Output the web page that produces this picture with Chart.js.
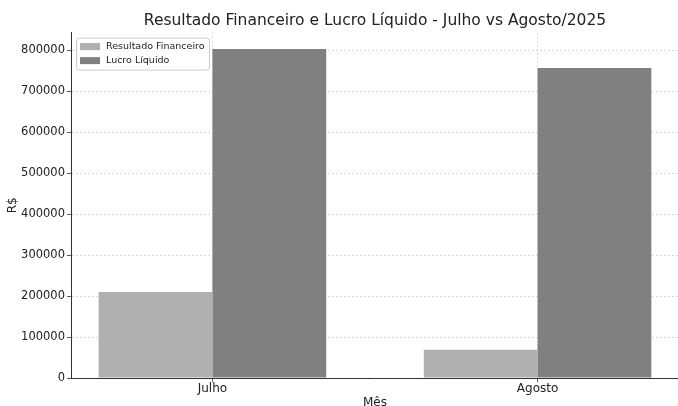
<!DOCTYPE html>
<html lang="pt">
<head>
  <meta charset="UTF-8" />
  <title>Resultado Financeiro e Lucro Líquido</title>
  <script src="https://cdn.jsdelivr.net/npm/chart.js"></script>
  <style>
    html, body {
      margin: 0;
      padding: 0;
      background: #fff;
      overflow: hidden;
    }
    #wrap {
      position: absolute;
      left: 0;
      top: 0;
      width: 750px;
      height: 410px;
    }
  </style>
</head>
<body>
  <div id="wrap">
    <canvas id="chart" width="750" height="410"></canvas>
  </div>
  <script>
    // dados
    const meses = ['Julho', 'Agosto'];
    const resultadoFinanceiro = [210000, 69000];
    const lucroLiquido = [803000, 757000];
    const yTicks = [0, 100000, 200000, 300000, 400000, 500000, 600000, 700000, 800000];

    const font = 'DejaVu Sans';
    const gridColor = '#d0d0d0';
    const axisColor = '#333333';

    // limites como o matplotlib (margem de 5%)
    const yMax = Math.max(...lucroLiquido, ...resultadoFinanceiro) * 1.05;
    const xMin = -0.435, xMax = (meses.length - 1) + 0.435;

    const legendInside = {
      id: 'legendInside',
      afterDatasetsDraw(chart) {
        const ctx = chart.ctx;
        const area = chart.chartArea;
        const x = area.left + 5, y = area.top + 5;
        const w = 133, h = 32;
        ctx.save();
        ctx.fillStyle = 'rgba(255,255,255,0.8)';
        ctx.strokeStyle = '#cccccc';
        ctx.lineWidth = 1;
        ctx.beginPath();
        ctx.roundRect(x + 0.5, y + 0.5, w, h, 3);
        ctx.fill();
        ctx.stroke();
        ctx.font = '9.5px "' + font + '"';
        ctx.textBaseline = 'middle';
        chart.data.datasets.forEach((ds, i) => {
          const cy = y + 9 + i * 14;
          ctx.fillStyle = ds.backgroundColor;
          ctx.fillRect(x + 4, cy - 3.5, 20, 7);
          ctx.fillStyle = '#222222';
          ctx.fillText(ds.label, x + 30, cy);
        });
        ctx.restore();
      }
    };

    const ctx = document.getElementById('chart').getContext('2d');
    new Chart(ctx, {
      type: 'bar',
      data: {
        datasets: [
          {
            label: 'Resultado Financeiro',
            data: resultadoFinanceiro.map((v, i) => ({ x: i, y: v })),
            backgroundColor: '#b0b0b0',
            borderWidth: 0
          },
          {
            label: 'Lucro Líquido',
            data: lucroLiquido.map((v, i) => ({ x: i, y: v })),
            backgroundColor: '#808080',
            borderWidth: 0
          }
        ]
      },
      options: {
        responsive: false,
        animation: false,
        devicePixelRatio: 1,
        barPercentage: 1,
        categoryPercentage: 0.7,
        layout: { padding: 0 },
        plugins: {
          legend: { display: false },
          tooltip: { enabled: false },
          title: {
            display: true,
            text: 'Resultado Financeiro e Lucro Líquido - Julho vs Agosto/2025',
            color: '#222222',
            font: { family: font, size: 15.5, weight: 'normal' },
            padding: { top: 12, bottom: 2 }
          }
        },
        scales: {
          x: {
            type: 'linear',
            offset: false,
            min: xMin,
            max: xMax,
            afterBuildTicks: s => { s.ticks = meses.map((m, i) => ({ value: i })); },
            afterFit: s => { s.height = 32; },
            ticks: {
              callback: v => meses[v],
              color: '#222222',
              font: { family: font, size: 12 },
              padding: 0,
              maxRotation: 0
            },
            grid: {
              offset: false,
              color: gridColor,
              lineWidth: 0.8,
              tickColor: axisColor,
              tickLength: 4,
              tickBorderDash: []
            },
            border: { display: true, color: axisColor, width: 1, dash: [2, 2] },
            title: {
              display: true,
              text: 'Mês',
              color: '#222222',
              font: { family: font, size: 12 },
              padding: { top: 0, bottom: 0 }
            }
          },
          y: {
            min: 0,
            max: yMax,
            afterBuildTicks: s => { s.ticks = yTicks.map(v => ({ value: v })); },
            afterFit: s => { s.width = 71; },
            ticks: {
              callback: v => String(v),
              color: '#222222',
              font: { family: font, size: 11.5 },
              padding: 2
            },
            grid: {
              color: gridColor,
              lineWidth: 0.8,
              tickColor: axisColor,
              tickLength: 4,
              tickBorderDash: []
            },
            border: { display: true, color: axisColor, width: 1, dash: [2, 2] },
            title: {
              display: true,
              text: 'R$',
              color: '#222222',
              font: { family: font, size: 12 },
              padding: { top: 6, bottom: 0 }
            }
          },
          // eixo vazio a direita: so reserva espaco para centrar o titulo
          espaco: {
            type: 'linear',
            position: 'right',
            afterFit: s => { s.width = 71; },
            ticks: { display: false },
            grid: { display: false, drawTicks: false },
            border: { display: false }
          }
        }
      },
      plugins: [legendInside]
    });
  </script>
</body>
</html>
